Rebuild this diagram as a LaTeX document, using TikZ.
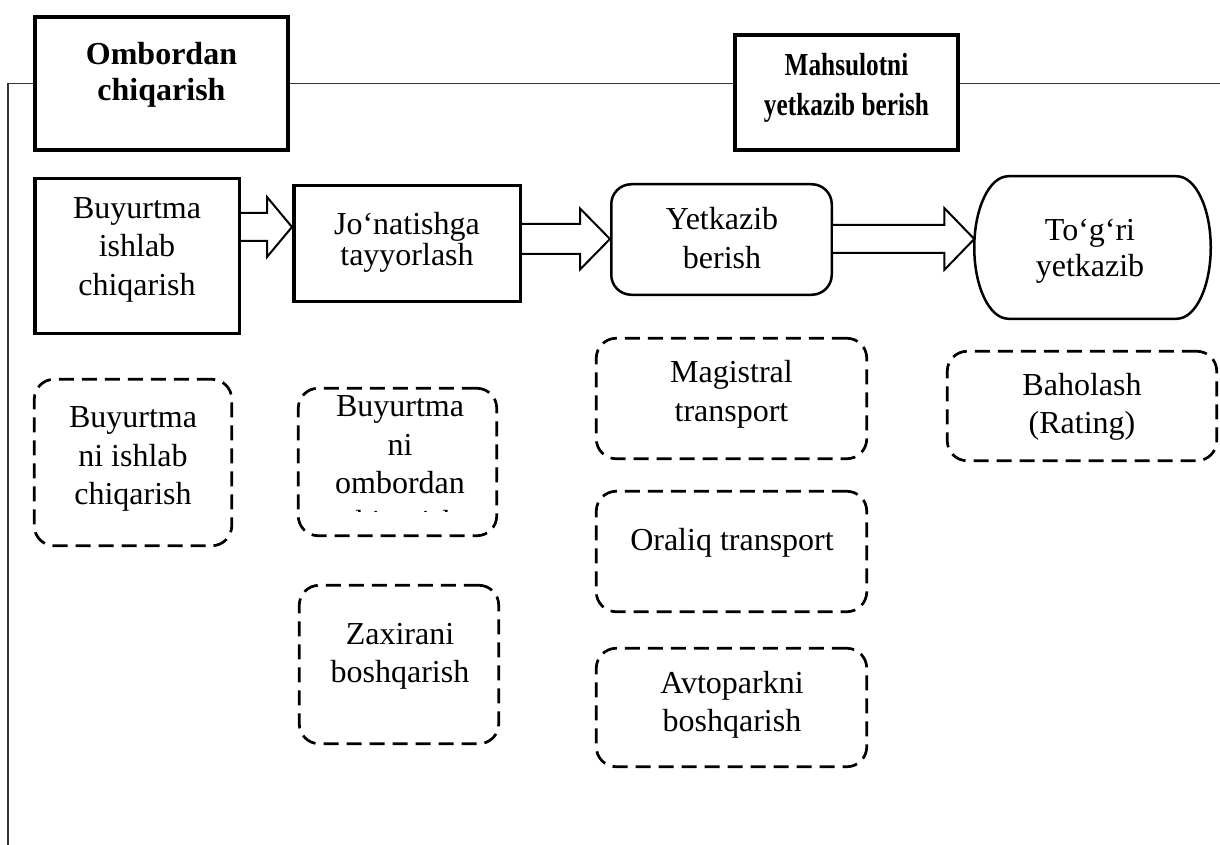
\documentclass[tikz,border=0pt]{standalone}
\usepackage{fontspec}
\usepackage{graphicx}
\setmainfont{Liberation Serif}
\usetikzlibrary{calc}

% hollow block arrow: start point, tip point, shaft half-height, head half-height, head length
\newcommand{\flowarrow}[5]{%
  \path[blockarrow] let \p1=(#1), \p2=(#2) in
    (\x1,\y1+#3) -- (\x2-#5,\y1+#3) -- (\x2-#5,\y1+#4) -- (\x2,\y1)
    -- (\x2-#5,\y1-#4) -- (\x2-#5,\y1-#3) -- (\x1,\y1-#3);}

\begin{document}
\begin{tikzpicture}[x=0.5pt,y=-0.5pt,
  every node/.style={inner sep=0pt, outer sep=0pt},
  headbox/.style={draw, line width=2pt, fill=white, outer sep=0.5\pgflinewidth},
  stagebox/.style={draw, line width=1.75pt, fill=white, outer sep=0.5\pgflinewidth},
  roundstage/.style={draw, line width=1.25pt, rounded corners=10pt, outer sep=0.5\pgflinewidth},
  taskbox/.style={draw, line width=1.35pt, dash pattern=on 7.5pt off 4pt, rounded corners=10pt},
  txt/.style={align=center, font=\fontsize{16}{19.25}\selectfont},
  headtxt/.style={align=center, font=\fontsize{16}{18}\selectfont\bfseries},
  link/.style={line width=0.8pt, draw=black!80},
  blockarrow/.style={draw, fill=white, line width=1pt, line join=miter}
]
\useasboundingbox (0,0) rectangle (1220,845);

% header boxes
\node[headbox, minimum width=126.5pt, minimum height=66.5pt] (omb) at (161.5,83.5) {};
\node[headtxt] (omb-t) at (161.5,74.5) {Ombordan\\chiqarish};
\node[headbox, minimum width=111.5pt, minimum height=57.5pt] (mah) at (846.5,92.5) {};
\node[headtxt, font=\fontsize{16}{20}\selectfont\bfseries] (mah-t) at (846.5,87.5)
  {\scalebox{0.79}[1]{Mahsulotni}\\\scalebox{0.79}[1]{yetkazib berish}};

% frame line
\coordinate (corner) at (8,83.5);
\coordinate (bottom) at (8,845);
\coordinate (rightend) at (1220,83.5);
\draw[link] (omb.west) -- (corner) -- (bottom);
\draw[link] (omb.east) -- (omb.east -| mah.west);
\draw[link] (mah.east |- omb.east) -- (rightend);

% process stages
\node[stagebox, minimum width=102.25pt, minimum height=77.25pt] (b1) at (137,256) {};
\node[txt] (b1-t) at (137,249.5) {Buyurtma\\ishlab\\chiqarish};
\node[stagebox, minimum width=113.25pt, minimum height=57.75pt] (jo) at (407,243.5) {};
\node[txt, font=\fontsize{16}{15.5}\selectfont] (jo-t) at (407,242) {Jo‘natishga\\tayyorlash};
\node[roundstage, minimum width=110.25pt, minimum height=55.25pt] (yet) at (721.5,239.5) {};
\node[txt] (yet-t) at (722,238) {Yetkazib\\berish};
\node[minimum width=118.25pt, minimum height=71.25pt] (tog) at (1092.5,247.5) {};
\draw[line width=1.25pt] ([xshift=17pt]tog.north west) -- ([xshift=-17pt]tog.north east)
  arc[start angle=90, end angle=-90, x radius=17pt, y radius=35.625pt]
  -- ([xshift=17pt]tog.south west)
  arc[start angle=-90, end angle=-270, x radius=17pt, y radius=35.625pt] -- cycle;
\node[txt, font=\fontsize{16}{18}\selectfont] (tog-t) at (1090,251) {To‘g‘ri\\yetkazib};

% arrows between stages
\coordinate (row1) at (0,227);
\coordinate (row2) at (0,239);
\flowarrow{b1.east |- row1}{jo.west |- row1}{7pt}{15pt}{12.5pt}
\flowarrow{jo.east |- row2}{yet.west |- row2}{7.5pt}{15.25pt}{15pt}
\flowarrow{yet.east |- row2}{tog.west |- row2}{7pt}{15.5pt}{15pt}

% sub-tasks
\node[taskbox, minimum width=98.75pt, minimum height=83.25pt] (d1) at (133,462.5) {};
\node[txt] (d1-t) at (133,459) {Buyurtma\\ni ishlab\\chiqarish};

\node[taskbox, minimum width=99.25pt, minimum height=73.75pt] (d2) at (397.5,462) {};
\coordinate (clipline) at (0,511);
\begin{scope}
  \clip (d2.north west) rectangle (d2.east |- clipline);
  \node[txt] (d2-t) at (400,467.5) {Buyurtma\\ni\\ombordan\\chiqarish};
\end{scope}

\node[taskbox, minimum width=99.75pt, minimum height=79.25pt] (d3) at (399,664.5) {};
\node[txt] (d3-t) at (400,656.5) {Zaxirani\\boshqarish};

\node[taskbox, minimum width=135.25pt, minimum height=60.25pt] (m1) at (731.5,398.5) {};
\node[txt] (m1-t) at (731.5,394.5) {Magistral\\transport};
\node[taskbox, minimum width=135.25pt, minimum height=60.25pt] (m2) at (731.5,551.5) {};
\node[txt] (m2-t) at (732,542.5) {Oraliq transport};
\node[taskbox, minimum width=135.25pt, minimum height=59.25pt] (m3) at (731.5,707.5) {};
\node[txt] (m3-t) at (732,705) {Avtoparkni\\boshqarish};

\node[taskbox, minimum width=134.75pt, minimum height=54.75pt] (r1) at (1082,406) {};
\node[txt] (r1-t) at (1082,407) {Baholash\\(Rating)};
\end{tikzpicture}
\end{document}
